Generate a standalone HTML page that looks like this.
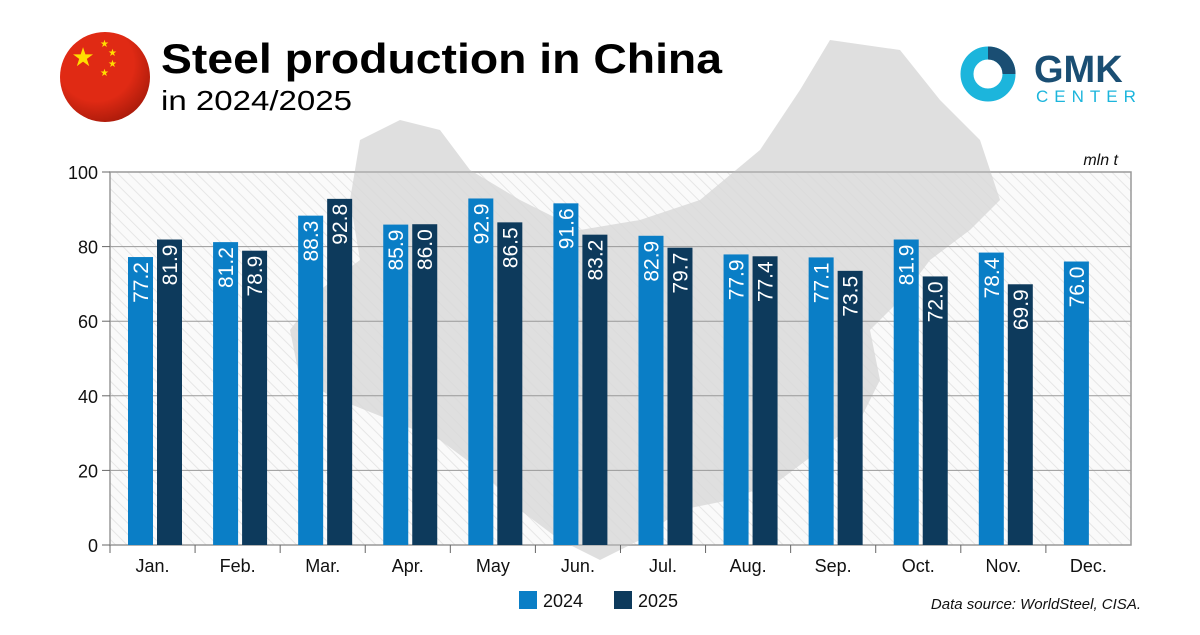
<!DOCTYPE html>
<html><head><meta charset="utf-8"><style>
body{margin:0;width:1200px;height:630px;overflow:hidden;background:#fff;font-family:"Liberation Sans",sans-serif}
</style></head><body>
<svg id="s" width="1200" height="630" xmlns="http://www.w3.org/2000/svg">
<defs>
<pattern id="h" width="8" height="8" patternUnits="userSpaceOnUse" patternTransform="rotate(-45)">
<rect width="8" height="8" fill="#fafafa"/><line x1="0" y1="0" x2="0" y2="8" stroke="#e6e6e6" stroke-width="2"/></pattern>
<radialGradient id="fl" cx="0.4" cy="0.35" r="0.7"><stop offset="0.6" stop-color="#e02a14"/><stop offset="1" stop-color="#a81a0a"/></radialGradient>
</defs>
<rect x="110" y="172" width="1021" height="373" fill="url(#h)" stroke="#999" stroke-width="1.5"/>
<polygon fill="#d9d9d9" opacity="0.85" points="360,140 400,120 440,130 470,170 520,200 580,230 640,220 700,200 760,150 800,90 830,40 900,50 940,100 980,140 1000,200 970,230 930,260 900,300 870,330 880,380 860,420 820,450 780,480 730,500 680,510 640,540 600,560 560,540 520,510 480,470 440,440 390,420 340,400 300,380 290,330 320,290 360,260 350,200"/>
<g id="grid"></g>
<g id="bars"></g>
<g font-size="18" fill="#111" text-anchor="end" id="yl"></g>
<g font-size="18" fill="#111" text-anchor="middle" id="xl"></g>
<circle cx="105" cy="77" r="45" fill="url(#fl)"/>
<text x="83" y="66" font-size="26" fill="#ffde00" text-anchor="middle">★</text>
<text x="100" y="47" font-size="10" fill="#ffde00">★</text>
<text x="108" y="56" font-size="10" fill="#ffde00">★</text>
<text x="108" y="67" font-size="10" fill="#ffde00">★</text>
<text x="100" y="76" font-size="10" fill="#ffde00">★</text>
<text x="161" y="73" font-size="42" font-weight="bold" fill="#000" textLength="561" lengthAdjust="spacingAndGlyphs">Steel production in China</text>
<text x="161" y="110" font-size="28" fill="#000" textLength="191" lengthAdjust="spacingAndGlyphs">in 2024/2025</text>
<circle cx="988" cy="74" r="21" fill="none" stroke="#1cb5dc" stroke-width="13"/>
<path d="M988,53 A21,21 0 0 1 1009,74" fill="none" stroke="#1a4e73" stroke-width="13"/>
<text x="1034" y="82" font-size="38" font-weight="bold" fill="#1a4e73">GMK</text>
<text x="1036" y="102" font-size="17" fill="#1cb5dc" letter-spacing="6">CENTER</text>
<text x="1118" y="165" font-size="16" font-style="italic" fill="#111" text-anchor="end">mln t</text>
<rect x="519" y="591" width="18" height="18" fill="#0a7ec6"/>
<text x="543" y="607" font-size="18" fill="#111">2024</text>
<rect x="614" y="591" width="18" height="18" fill="#0d3a5c"/>
<text x="638" y="607" font-size="18" fill="#111">2025</text>
<text x="1141" y="609" font-size="15" font-style="italic" fill="#111" text-anchor="end">Data source: WorldSteel, CISA.</text>
</svg>
<script>
var ns="http://www.w3.org/2000/svg";
function el(p,t,a,tx){var e=document.createElementNS(ns,t);for(var k in a)e.setAttribute(k,a[k]);if(tx!==undefined)e.textContent=tx;document.getElementById(p).appendChild(e);}
for(var v=0;v<=100;v+=20){var y=545-v*3.73;el('grid','line',{x1:110,x2:1131,y1:y,y2:y,stroke:'#999','stroke-width':1});el('grid','line',{x1:102,x2:110,y1:y,y2:y,stroke:'#666'});el('yl','text',{x:98,y:y+7},String(v));}
var m=["Jan.","Feb.","Mar.","Apr.","May","Jun.","Jul.","Aug.","Sep.","Oct.","Nov.","Dec."];
var a=[77.2,81.2,88.3,85.9,92.9,91.6,82.9,77.9,77.1,81.9,78.4,76.0];
var b=[81.9,78.9,92.8,86.0,86.5,83.2,79.7,77.4,73.5,72.0,69.9,null];
var w=85.08;
for(var i=0;i<12;i++){var x0=110+i*w;
el('grid','line',{x1:x0,x2:x0,y1:545,y2:553,stroke:'#666'});
el('xl','text',{x:x0+w/2,y:572},m[i]);
[[a[i],18,'#0a7ec6'],[b[i],47,'#0d3a5c']].forEach(function(d){if(d[0]==null)return;var h=d[0]*3.73,x=x0+d[1],y=545-h;
el('bars','rect',{x:x,y:y,width:25,height:h,fill:d[2]});
el('bars','text',{x:0,y:0,transform:'translate('+(x+20)+','+(y+5)+') rotate(-90)','text-anchor':'end','font-size':21,fill:'#fff'},d[0].toFixed(1));});}
</script>
</body></html>
